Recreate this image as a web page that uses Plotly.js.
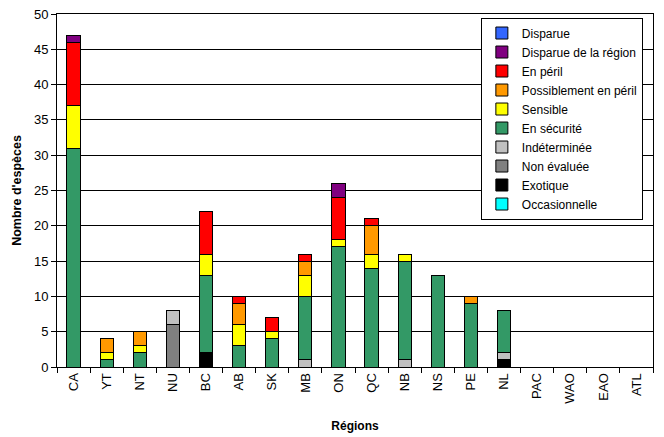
<!DOCTYPE html>
<html><head><meta charset="utf-8">
<script src="https://cdn.plot.ly/plotly-3.0.1.min.js"></script>
<style>body{margin:0;background:#fff}#c{width:664px;height:437px}</style>
</head><body><div id="c"></div>
<script>
const regions = ["CA","YT","NT","NU","BC","AB","SK","MB","ON","QC","NB","NS","PE","NL","PAC","WAO","EAO","ATL"];
// stacked bottom to top
const occasionnelle = [0,0,0,0,0,0,0,0,0,0,0,0,0,0,0,0,0,0];
const exotique      = [0,0,0,0,2,0,0,0,0,0,0,0,0,1,0,0,0,0];
const nonEvaluee    = [0,0,0,6,0,0,0,0,0,0,0,0,0,0,0,0,0,0];
const indeterminee  = [0,0,0,2,0,0,0,1,0,0,1,0,0,1,0,0,0,0];
const enSecurite    = [31,1,2,0,11,3,4,9,17,14,14,13,9,6,0,0,0,0];
const sensible      = [6,1,1,0,3,3,1,3,1,2,1,0,0,0,0,0,0,0];
const possiblement  = [0,2,2,0,0,3,0,2,0,4,0,0,1,0,0,0,0,0];
const enPeril       = [9,0,0,0,6,1,2,1,6,1,0,0,0,0,0,0,0,0];
const disparueRegion= [1,0,0,0,0,0,0,0,2,0,0,0,0,0,0,0,0,0];
const disparue      = [0,0,0,0,0,0,0,0,0,0,0,0,0,0,0,0,0,0];

const series = [
  ["Occasionnelle", occasionnelle, "#00FFFF"],
  ["Exotique", exotique, "#000000"],
  ["Non évaluée", nonEvaluee, "#808080"],
  ["Indéterminée", indeterminee, "#C0C0C0"],
  ["En sécurité", enSecurite, "#339966"],
  ["Sensible", sensible, "#FFFF00"],
  ["Possiblement en péril", possiblement, "#FF9900"],
  ["En péril", enPeril, "#FF0000"],
  ["Disparue de la région", disparueRegion, "#800080"],
  ["Disparue", disparue, "#3366FF"]
];
const data = series.map(([name, vals, color]) => ({
  type: "bar", name: name, x: regions, y: vals,
  marker: {color: color, line: {color: "#000", width: 1}},
  hoverinfo: "skip"
}));
const layout = {
  width: 664, height: 437,
  margin: {l: 57, r: 11, t: 14, b: 70},
  barmode: "stack", bargap: 0.6,
  paper_bgcolor: "#fff", plot_bgcolor: "#fff",
  font: {family: "Liberation Sans, Arial, sans-serif", size: 13, color: "#000"},
  xaxis: {
    type: "category", tickangle: -90, tickson: "boundaries",
    ticks: "outside", ticklen: 5, tickcolor: "#000",
    showline: true, linecolor: "#000", linewidth: 1, mirror: true,
    showgrid: false,
    tickfont: {size: 13},
    title: {text: "<b>Régions</b>", font: {size: 12}, standoff: 18}
  },
  yaxis: {
    range: [0, 50], dtick: 5, ticks: "outside", ticklen: 5, tickcolor: "#000",
    showline: true, linecolor: "#000", linewidth: 1, mirror: true,
    showgrid: true, gridcolor: "#000", gridwidth: 1, zeroline: false,
    tickfont: {size: 13},
    title: {text: "<b>Nombre d'espèces</b>", font: {size: 12.5}, standoff: 9}
  },
  legend: {
    x: 0.983, xanchor: "right", y: 0.99, yanchor: "top",
    traceorder: "reversed", bgcolor: "#fff", bordercolor: "#000", borderwidth: 1,
    font: {size: 12}, itemwidth: 30, tracegroupgap: 0
  },
  showlegend: true
};
Plotly.newPlot("c", data, layout, {staticPlot: true});
</script></body></html>
